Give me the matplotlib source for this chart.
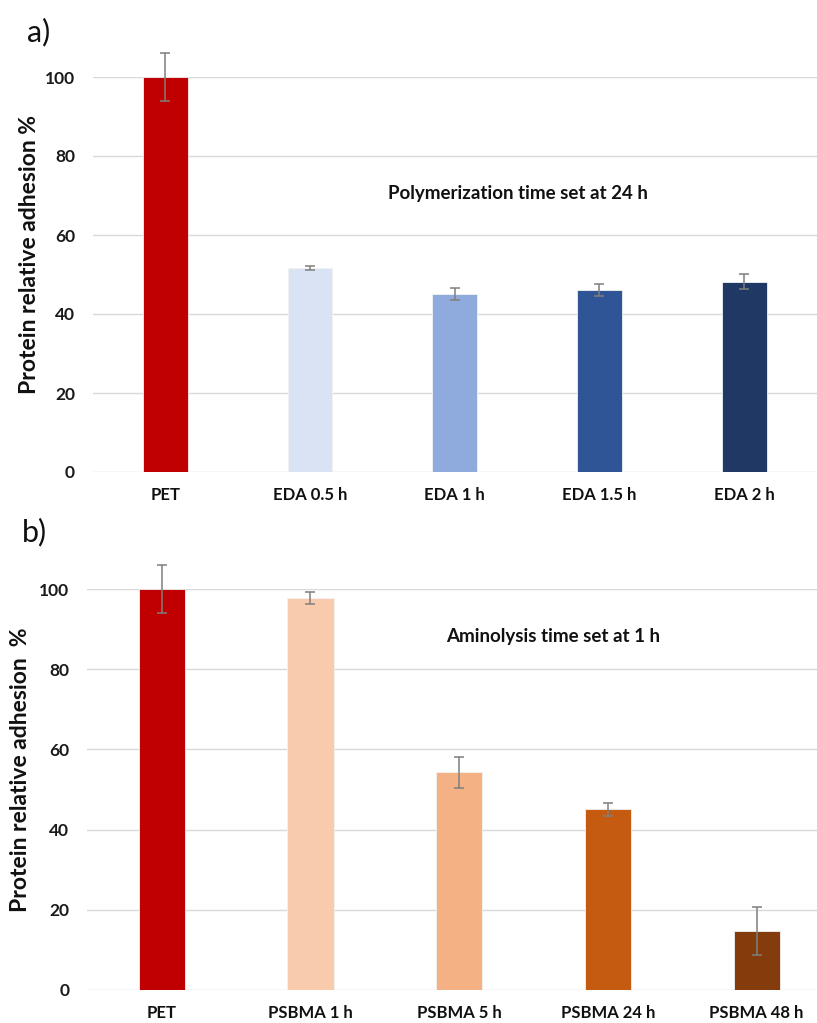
import matplotlib
matplotlib.use("Agg")
import matplotlib.pyplot as plt

plt.rcParams['font.family'] = ['Lato', 'DejaVu Sans']

cats_a = ["PET", "EDA 0.5 h", "EDA 1 h", "EDA 1.5 h", "EDA 2 h"]
vals_a = [100.0, 51.6, 45.1, 46.0, 48.2]
errs_a = [6.0, 0.5, 1.6, 1.5, 1.9]
cols_a = ["#C00000", "#DAE3F3", "#8FAADC", "#2F5597", "#203864"]

cats_b = ["PET", "PSBMA 1 h", "PSBMA 5 h", "PSBMA 24 h", "PSBMA 48 h"]
vals_b = [100.0, 97.8, 54.3, 45.1, 14.7]
errs_b = [6.1, 1.5, 3.9, 1.6, 5.9]
cols_b = ["#C00000", "#F8CBAD", "#F4B183", "#C55A11", "#843C0C"]

yticks = [0, 20, 40, 60, 80, 100]

W, H = 817, 1023
fig = plt.figure(figsize=(W / 100, H / 100), dpi=100)

def make_axes(l, r, t, b):
    return fig.add_axes([l / W, 1 - b / H, (r - l) / W, (b - t) / H])

def draw(ax, cats, vals, errs, cols, ylabel, note, note_xy, label_x):
    x = range(len(cats))
    ax.bar(x, vals, width=0.31, color=cols, edgecolor="#f2f2f2", linewidth=0.6, zorder=2)
    ax.errorbar(x, vals, yerr=errs, fmt="none", ecolor="#7f7f7f", elinewidth=1.1,
                capsize=3.5, capthick=1.1, zorder=3, clip_on=False)
    ax.set_xlim(-0.5, len(cats) - 0.5)
    ax.set_ylim(0, 100)
    ax.set_yticks(yticks)
    ax.set_yticklabels([str(v) for v in yticks], fontsize=12.5, fontweight="bold", color="#1a1a1a")
    ax.set_xticks(list(x))
    ax.set_xticklabels(cats, fontsize=12, fontweight="bold", color="#111111")
    ax.tick_params(axis="both", length=0)
    ax.tick_params(axis="y", pad=13)
    ax.tick_params(axis="x", pad=11)
    ax.yaxis.grid(True, color="#d9d9d9", linewidth=1.0, zorder=0)
    ax.set_axisbelow(True)
    for s in ax.spines.values():
        s.set_visible(False)
    ax.set_ylabel(ylabel, fontsize=16.5, fontweight="bold", color="#111111")
    ax.yaxis.set_label_coords(label_x, 0.55)
    ax.text(note_xy[0], note_xy[1], note, fontsize=13.5, fontweight="bold",
            color="#111111", ha="center", va="center")

ax1 = make_axes(93, 816.5, 77, 472)
draw(ax1, cats_a, vals_a, errs_a, cols_a, "Protein relative adhesion %",
     "Polymerization time set at 24 h", (2.44, 70.4), -0.073)

ax2 = make_axes(87.4, 831, 589, 990)
draw(ax2, cats_b, vals_b, errs_b, cols_b, "Protein relative adhesion  %",
     "Aminolysis time set at 1 h", (2.63, 88.1), -0.076)

fig.text(27 / W, 1 - 32 / H, "a)", fontsize=22, color="#111111", va="center")
fig.text(22 / W, 1 - 532 / H, "b)", fontsize=22, color="#111111", va="center")

fig.savefig("out.png", dpi=100)
